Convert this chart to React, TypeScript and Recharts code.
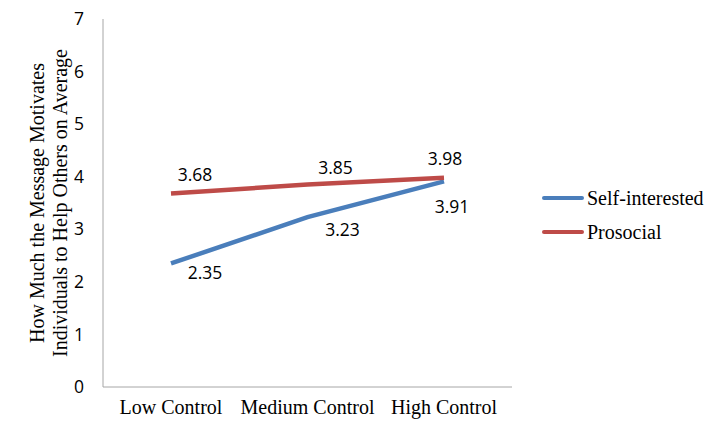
import { LineChart, Line, XAxis, YAxis, Legend, LabelList } from 'recharts';

const categories = ['Low Control', 'Medium Control', 'High Control'];
const selfInterested = [2.35, 3.23, 3.91];
const prosocial = [3.68, 3.85, 3.98];
const yTicks = [0, 1, 2, 3, 4, 5, 6, 7];

const BLUE = '#4a7ebb';
const RED = '#be4b48';
const SERIF = '"Liberation Serif", "Times New Roman", serif';
const SANS = '"Open Sans", "Noto Sans", sans-serif';

const data = categories.map((name, i) => ({
  name,
  self: selfInterested[i],
  pro: prosocial[i],
}));

// label offsets (text centre relative to the point), like the Excel layout
const selfOffsets = [[34, 9], [35, 12], [8, 25]];
const proOffsets = [[24, -20], [28, -18], [1, -20]];

function makeLabel(offsets: number[][]) {
  return (props: any) => {
    const { x, y, value, index } = props;
    const [dx, dy] = offsets[index] || [0, 0];
    return (
      <text
        x={x + dx}
        y={y + dy}
        textAnchor="middle"
        dominantBaseline="central"
        style={{ fontFamily: SANS, fontSize: 17.5 }}
        fill="#000"
      >
        {Number(value).toFixed(2)}
      </text>
    );
  };
}

function YLabel() {
  const st = { fontFamily: SERIF, fontSize: 20 };
  return (
    <g fill="#000">
      <text x={37} y={203} transform="rotate(-90 37 203)" textAnchor="middle" dominantBaseline="central" style={st}>
        How Much the Message Motivates
      </text>
      <text x={60} y={203} transform="rotate(-90 60 203)" textAnchor="middle" dominantBaseline="central" style={st}>
        Individuals to Help Others on Average
      </text>
    </g>
  );
}

const legendItems = [
  { label: 'Self-interested', color: BLUE },
  { label: 'Prosocial', color: RED },
];

function renderLegend() {
  return (
    <div style={{ fontFamily: SERIF, fontSize: 20, color: '#000', lineHeight: '34px' }}>
      {legendItems.map((it) => (
        <div key={it.label} style={{ display: 'flex', alignItems: 'center', height: 34 }}>
          <div style={{ width: 42, height: 4, background: it.color, borderRadius: 2, marginRight: 3 }} />
          <span style={{ fontFamily: SERIF }}>{it.label}</span>
        </div>
      ))}
    </div>
  );
}

export default function App() {
  return (
    <div style={{ position: 'absolute', left: 0, top: 0, width: 708, height: 424, background: '#fff' }}>
      <LineChart width={708} height={424} data={data} margin={{ top: 19, right: 196, bottom: 7, left: 0 }}>
        <XAxis
          dataKey="name"
          padding={{ left: 68, right: 68 }}
          axisLine={{ stroke: '#a6a6a6' }}
          tickLine={false}
          tickMargin={7}
          height={30}
          interval={0}
          tick={{ fill: '#000', style: { fontFamily: SERIF, fontSize: 20 } }}
        />
        <YAxis
          domain={[0, 7]}
          ticks={yTicks}
          width={103}
          axisLine={{ stroke: '#a6a6a6' }}
          tickLine={false}
          tickMargin={13}
          tick={{ fill: '#000', style: { fontFamily: SANS, fontSize: 17.5 } }}
          label={<YLabel />}
        />
        <Legend
          layout="vertical"
          align="center"
          verticalAlign="middle"
          wrapperStyle={{ position: 'absolute', left: 542, top: 181, width: 166 }}
          content={renderLegend}
        />
        <Line
          type="linear"
          dataKey="self"
          name="Self-interested"
          stroke={BLUE}
          strokeWidth={4.5}
          dot={false}
          isAnimationActive={false}
        >
          <LabelList dataKey="self" content={makeLabel(selfOffsets)} />
        </Line>
        <Line
          type="linear"
          dataKey="pro"
          name="Prosocial"
          stroke={RED}
          strokeWidth={4.5}
          dot={false}
          isAnimationActive={false}
        >
          <LabelList dataKey="pro" content={makeLabel(proOffsets)} />
        </Line>
      </LineChart>
    </div>
  );
}
